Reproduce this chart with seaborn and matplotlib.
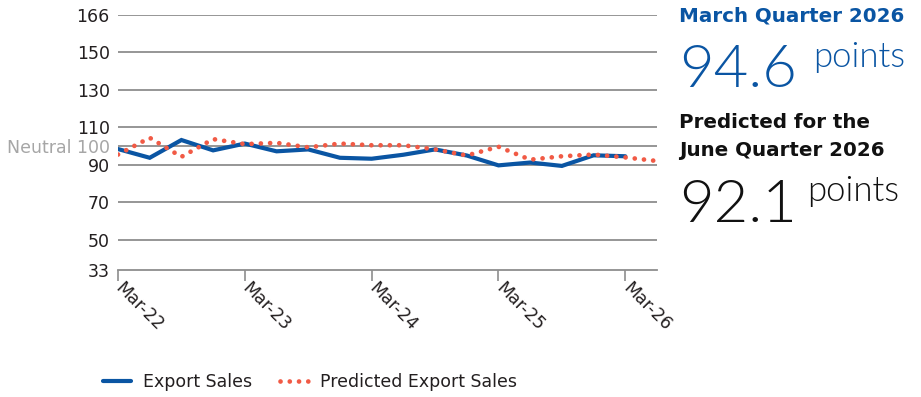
import os
import numpy as np
import pandas as pd
import matplotlib
matplotlib.use("Agg")
import matplotlib.pyplot as plt
from matplotlib import font_manager
from matplotlib.scale import FuncScale
import seaborn as sns

# Quarterly index of export sales, Mar-22 to Jun-26
quarters = ["Mar-22", "Jun-22", "Sep-22", "Dec-22",
            "Mar-23", "Jun-23", "Sep-23", "Dec-23",
            "Mar-24", "Jun-24", "Sep-24", "Dec-24",
            "Mar-25", "Jun-25", "Sep-25", "Dec-25",
            "Mar-26", "Jun-26"]
export_sales = [98.4, 93.8, 103.2, 97.7, 101.3, 97.2, 98.2, 93.8, 93.3,
                95.4, 98.2, 95.0, 89.8, 91.3, 89.5, 95.1, 94.6]
predicted_sales = [95.5, 104.4, 94.3, 103.7, 101.0, 101.7, 99.3, 101.3, 100.4,
                   100.4, 98.2, 95.0, 99.6, 92.8, 94.6, 95.5, 94.0, 92.1]
y_ticks = [33, 50, 70, 90, 100, 110, 130, 150, 166]
y_tick_labels = ["33", "50", "70", "90", "Neutral 100", "110", "130", "150", "166"]
x_tick_labels = ["Mar-22", "Mar-23", "Mar-24", "Mar-25", "Mar-26"]

BLUE = "#0a55a3"
RED = "#f15a45"
GRID = "#8e8e8e"
TEXT = "#231f20"

sns.set_theme(style="white")
plt.rcParams["font.family"] = ["DejaVu Sans"]


def light_font():
    """Pick a light-weight face for the large headline numbers."""
    wanted = ["Lato-Light.ttf", "Roboto-Light.ttf", "OpenSans-Light.ttf"]
    found = {os.path.basename(f): f for f in font_manager.findSystemFonts()}
    for name in wanted:
        if name in found:
            return lambda size: font_manager.FontProperties(fname=found[name], size=size)
    return lambda size: font_manager.FontProperties(family="Roboto", weight="light", size=size)


light = light_font()

df_actual = pd.DataFrame({"q": np.arange(len(export_sales)), "value": export_sales})
df_pred = pd.DataFrame({"q": np.arange(len(predicted_sales)), "value": predicted_sales})

fig = plt.figure(figsize=(9.21, 3.97), dpi=100)
ax = fig.add_axes([118 / 921, 1 - 270 / 397, 539 / 921, 255 / 397])

# Axis stretches its outer bands (33-50 and 150-166) differently from the core
tick_pos = np.array([0, 30, 68, 105, 124, 142.7, 180, 217.7, 255]) / 255.0
tick_val = np.array(y_ticks, dtype=float)


def fwd(v):
    return np.interp(v, tick_val, tick_pos)


def inv(p):
    return np.interp(p, tick_pos, tick_val)


ax.set_yscale(FuncScale(ax, (fwd, inv)))

sns.lineplot(data=df_actual, x="q", y="value", ax=ax, color=BLUE,
             linewidth=3.0, solid_joinstyle="miter", label="Export Sales")
sns.lineplot(data=df_pred, x="q", y="value", ax=ax, color=RED,
             linewidth=3.4, linestyle=(0, (0.01, 1.95)),
             dash_capstyle="round", label="Predicted Export Sales")

ax.set_xlim(0, len(quarters) - 1)
ax.set_ylim(33, 166)
ax.set_yticks(y_ticks)
ax.set_yticklabels(y_tick_labels)
ax.set_xticks([quarters.index(q) for q in x_tick_labels])
ax.set_xticklabels(x_tick_labels, rotation=-45, ha="left", va="center",
                   rotation_mode="anchor")
ax.set_xlabel("")
ax.set_ylabel("")

for v in y_ticks[1:]:
    ax.axhline(v, color=GRID, linewidth=1.3, zorder=0)

for s in ["top", "right", "left"]:
    ax.spines[s].set_visible(False)
ax.spines["bottom"].set_color(GRID)
ax.spines["bottom"].set_linewidth(1.3)

ax.tick_params(axis="x", length=8, width=1.2, color=GRID, pad=3,
               labelsize=12.5, labelcolor=TEXT, bottom=True)
ax.tick_params(axis="y", length=0, pad=6, labelsize=12.5, labelcolor=TEXT)
for lbl in ax.get_yticklabels():
    if lbl.get_text().startswith("Neutral"):
        lbl.set_color("#a6a6a6")

ax.get_legend().remove()
handles, labels = ax.get_legend_handles_labels()
fig.legend(handles, labels, loc="center", bbox_to_anchor=(310 / 921, 1 - 382 / 397),
           ncol=2, frameon=False, fontsize=12.5, handlelength=1.6,
           handletextpad=0.7, columnspacing=1.6, labelcolor=TEXT)

# Headline figures
H = 397
fx = 679 / 921
renderer = fig.canvas.get_renderer()


def headline(value, color, baseline_px, unit_baseline_px, gap_px):
    num = fig.text(fx, 1 - baseline_px / H, value, color=color,
                   fontproperties=light(43), ha="left", va="baseline")
    x_end = num.get_window_extent(renderer).x1
    fig.text((x_end + gap_px) / fig.bbox.width, 1 - unit_baseline_px / H, "points",
             color=color, fontproperties=light(25), ha="left", va="baseline")


fig.text(fx, 1 - 16 / H, "March Quarter 2026", color=BLUE, fontsize=14.3,
         fontweight="bold", ha="left", va="center")
headline("94.6", BLUE, 87, 67, 16)
fig.text(fx, 1 - 123 / H, "Predicted for the", color="#111111", fontsize=14.3,
         fontweight="bold", ha="left", va="center")
fig.text(fx, 1 - 151 / H, "June Quarter 2026", color="#111111", fontsize=14.3,
         fontweight="bold", ha="left", va="center")
headline("92.1", "#111111", 222, 201, 10)

fig.savefig("out.png", dpi=100)
